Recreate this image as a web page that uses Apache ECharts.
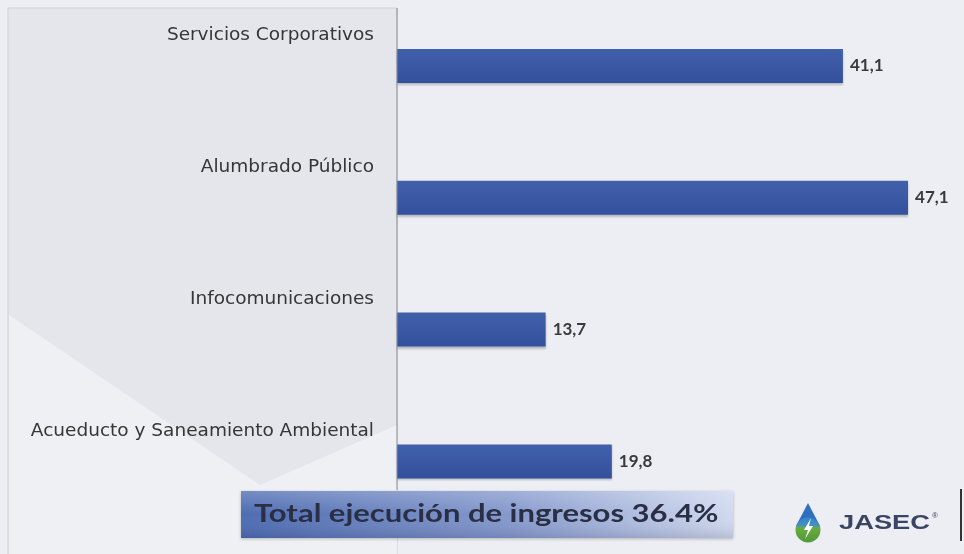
<!DOCTYPE html>
<html>
<head>
<meta charset="utf-8">
<script src="https://cdn.jsdelivr.net/npm/echarts@6/dist/echarts.min.js"></script>
<style>
  html, body { margin: 0; padding: 0; background: #eceef3; }
  #chart { width: 964px; height: 554px; }
</style>
</head>
<body>
<div id="chart"></div>
<script>
// data
const categories = [
  'Servicios Corporativos',
  'Alumbrado Público',
  'Infocomunicaciones',
  'Acueducto y Saneamiento Ambiental'
];
const values = [41.1, 47.1, 13.7, 19.8];
const totalText = 'Total ejecución de ingresos 36.4%';
const brand = 'JASEC';

const chart = echarts.init(document.getElementById('chart'));

chart.setOption({
  backgroundColor: '#eceef3',
  animation: false,
  grid: { left: 397, right: 24.5, top: -2, bottom: 26.7 },
  xAxis: {
    type: 'value', min: 0, max: 50, show: false
  },
  yAxis: {
    type: 'category',
    inverse: true,
    data: categories,
    axisLine: { show: false },
    axisTick: { show: false },
    axisLabel: {
      margin: 23,
      align: 'right',
      verticalAlign: 'bottom',
      padding: [0, 0, 21, 0],
      fontFamily: 'DejaVu Sans',
      fontSize: 18.5,
      color: '#363636'
    }
  },
  series: [{
    type: 'bar',
    data: values,
    barWidth: 34,
    itemStyle: {
      color: new echarts.graphic.LinearGradient(0, 0, 0, 1, [
        { offset: 0, color: '#4160ac' },
        { offset: 1, color: '#34509d' }
      ]),
      shadowColor: 'rgba(0,0,0,0.22)',
      shadowOffsetY: 2,
      shadowBlur: 2
    },
    label: {
      show: true,
      position: 'right',
      distance: 7,
      fontFamily: 'Lato',
      fontWeight: 'bold',
      fontSize: 17,
      color: '#3a3a3a',
      formatter: p => String(p.value).replace('.', ',')
    }
  }],
  graphic: [
    // left label panel
    {
      type: 'rect', z: -10, silent: true,
      shape: { x: 8, y: 8, width: 389, height: 560 },
      style: { fill: '#e4e6eb', stroke: '#cdd0d6', lineWidth: 1 }
    },
    // faint light sweep in the panel
    {
      type: 'polygon', z: -9, silent: true,
      shape: { points: [[9, 315], [260, 485], [397, 425], [397, 554], [9, 554]] },
      style: { fill: 'rgba(240,242,246,0.8)' }
    },
    // category axis line
    {
      type: 'line', z: 5, silent: true,
      shape: { x1: 397, y1: 8, x2: 397, y2: 490 },
      style: { stroke: '#8a8d94', lineWidth: 1 }
    },
    // total banner
    {
      type: 'rect', z: 5, silent: true,
      shape: { x: 241, y: 491, width: 492, height: 47 },
      style: {
        fill: new echarts.graphic.LinearGradient(0, 0, 1, 0, [
          { offset: 0, color: '#4e6cb2' },
          { offset: 0.55, color: '#8599cc' },
          { offset: 1, color: '#d0d9ee' }
        ]),
        shadowColor: 'rgba(0,0,0,0.25)', shadowBlur: 3, shadowOffsetY: 1
      }
    },
    {
      type: 'rect', z: 5, silent: true,
      shape: { x: 241, y: 491, width: 492, height: 47 },
      style: {
        fill: new echarts.graphic.LinearGradient(0, 0, 0, 1, [
          { offset: 0, color: 'rgba(255,255,255,0.22)' },
          { offset: 0.5, color: 'rgba(255,255,255,0)' },
          { offset: 1, color: 'rgba(0,0,40,0.12)' }
        ])
      }
    },
    {
      type: 'text', z: 6, silent: true,
      x: 254, y: 501, originX: 0, scaleX: 1.24,
      style: {
        text: totalText,
        font: 'bold 25px Lato',
        fill: '#2a2f45'
      }
    },
    // logo drop
    {
      type: 'polygon', z: 6, silent: true,
      shape: { points: [[808, 503], [796, 526], [820, 526]] },
      style: { fill: '#2f6fc0' }
    },
    {
      type: 'circle', z: 6, silent: true,
      shape: { cx: 808, cy: 530, r: 12.5 },
      style: {
        fill: new echarts.graphic.LinearGradient(0, 0, 0, 1, [
          { offset: 0, color: '#3a82c6' },
          { offset: 0.3, color: '#3f8fc9' },
          { offset: 0.42, color: '#6aab3e' },
          { offset: 1, color: '#4f9a3a' }
        ])
      }
    },
    {
      type: 'polygon', z: 7, silent: true,
      shape: { points: [[811, 518], [804, 530], [808, 530], [805, 539], [813, 526], [809, 526]] },
      style: { fill: '#ffffff' }
    },
    {
      type: 'text', z: 6, silent: true,
      x: 839, y: 513, originX: 0, scaleX: 1.3,
      style: {
        text: brand,
        font: 'bold 21px "Liberation Sans"',
        fill: '#3a4564'
      }
    },
    {
      type: 'text', z: 6, silent: true,
      x: 932, y: 512,
      style: { text: '®', font: '8px "Liberation Sans"', fill: '#3a4564' }
    },
    {
      type: 'line', z: 6, silent: true,
      shape: { x1: 961, y1: 489, x2: 961, y2: 541 },
      style: { stroke: '#333', lineWidth: 2 }
    }
  ]
});
</script>
</body>
</html>
